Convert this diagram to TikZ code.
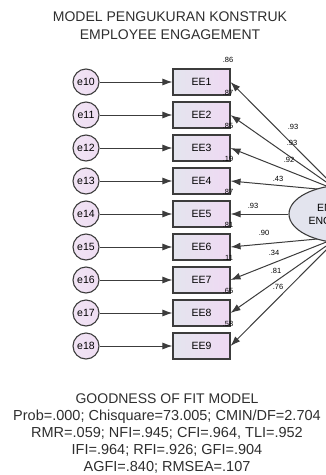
\documentclass[tikz,border=0pt]{standalone}
\usepackage{fontspec}
\setmainfont{Liberation Sans}
\usetikzlibrary{arrows.meta,shapes.geometric}
\definecolor{boxleft}{HTML}{E4E5EE}
\definecolor{boxright}{HTML}{EFD9F3}
\definecolor{errfill}{HTML}{EEDDF2}
\definecolor{latfill}{HTML}{E3E4EE}
\definecolor{edgegray}{HTML}{3C3C3C}
\definecolor{txtgray}{HTML}{2E2E2E}

\begin{document}
\begin{tikzpicture}[x=1pt, y=1pt,
  err/.style={shape=circle, draw=edgegray, line width=1.1pt, left color=errfill!80!white, right color=errfill, minimum size=26pt, inner sep=0pt, font=\fontsize{10.5}{12}\selectfont},
  item/.style={shape=rectangle, draw=edgegray, line width=1.1pt, left color=boxleft, right color=boxright, minimum width=57pt, minimum height=26pt, inner sep=0pt, font=\fontsize{10.5}{12}\selectfont},
  latent/.style={shape=ellipse, draw=edgegray, line width=1.1pt, fill=latfill, minimum width=114pt, minimum height=58pt, inner sep=0pt, align=center, font=\fontsize{10.5}{13}\selectfont},
  arr/.style={-{Latex[length=10pt,width=7pt]}, line width=1pt, draw=edgegray},
  sq/.style={font=\fontsize{7.5}{8}\selectfont, inner sep=0pt},
  coef/.style={font=\fontsize{7.5}{8}\selectfont, inner sep=0pt},
  head/.style={align=center, text=txtgray, font=\fontsize{14}{18}\selectfont},
  fit/.style={align=center, text=txtgray, font=\fontsize{14.5}{17}\selectfont}]
\clip (0,0) rectangle (326,-475);

\node[head] (title) at (170,-26) {MODEL PENGUKURAN KONSTRUK\\EMPLOYEE ENGAGEMENT};

\node[err] (e10) at (86,-82) {e10};
\node[err] (e11) at (86,-115) {e11};
\node[err] (e12) at (86,-148) {e12};
\node[err] (e13) at (86,-181) {e13};
\node[err] (e14) at (86,-214) {e14};
\node[err] (e15) at (86,-247) {e15};
\node[err] (e16) at (86,-280) {e16};
\node[err] (e17) at (86,-313) {e17};
\node[err] (e18) at (86,-346) {e18};

\node[item] (EE1) at (201.5,-82) {EE1};
\node[item] (EE2) at (201.5,-115) {EE2};
\node[item] (EE3) at (201.5,-148) {EE3};
\node[item] (EE4) at (201.5,-181) {EE4};
\node[item] (EE5) at (201.5,-214) {EE5};
\node[item] (EE6) at (201.5,-247) {EE6};
\node[item] (EE7) at (201.5,-280) {EE7};
\node[item] (EE8) at (201.5,-313) {EE8};
\node[item] (EE9) at (201.5,-346) {EE9};

\draw[arr] (e10) -- (EE1);
\draw[arr] (e11) -- (EE2);
\draw[arr] (e12) -- (EE3);
\draw[arr] (e13) -- (EE4);
\draw[arr] (e14) -- (EE5);
\draw[arr] (e15) -- (EE6);
\draw[arr] (e16) -- (EE7);
\draw[arr] (e17) -- (EE8);
\draw[arr] (e18) -- (EE9);

% loadings leave the ellipse from two points, ellipse drawn over them
\coordinate (hubT) at (339,-191);
\coordinate (hubB) at (339,-237);
\draw[arr] (hubT) -- (EE1.east);
\draw[arr] (hubT) -- (EE2.east);
\draw[arr] (hubT) -- (EE3.east);
\draw[arr] (hubT) -- (EE4.east);
\draw[arr] (hubB) -- (EE6.east);
\draw[arr] (hubB) -- (EE7.east);
\draw[arr] (hubB) -- (EE8.east);
\draw[arr] (hubB) -- (EE9.east);

\node[latent] (EE) at (346,-214) {EMPLOYEE\\ENGAGEMENT};
\draw[arr] (EE.west) -- (EE5.east);

% squared multiple correlations
\node[sq] (r1) at (228,-60) {.86};
\node[sq] (r2) at (228,-93) {.87};
\node[sq] (r3) at (228,-126) {.85};
\node[sq] (r4) at (228,-159) {.19};
\node[sq] (r5) at (228,-192) {.87};
\node[sq] (r6) at (228,-225) {.81};
\node[sq] (r7) at (228,-258) {.11};
\node[sq] (r8) at (228,-291) {.65};
\node[sq] (r9) at (228,-324) {.58};

% standardized loadings
\node[coef] (l1) at (293,-127) {.93};
\node[coef] (l2) at (292,-143) {.93};
\node[coef] (l3) at (289,-160) {.92};
\node[coef] (l4) at (278,-179) {.43};
\node[coef] (l5) at (253,-206) {.93};
\node[coef] (l6) at (264,-233) {.90};
\node[coef] (l7) at (274,-253) {.34};
\node[coef] (l8) at (276,-271) {.81};
\node[coef] (l9) at (278,-287) {.76};

\node[head] (gof) at (167,-399) {GOODNESS OF FIT MODEL};
\node[fit] (stats) at (167,-442) {Prob=.000; Chisquare=73.005; CMIN/DF=2.704\\RMR=.059; NFI=.945; CFI=.964, TLI=.952\\IFI=.964; RFI=.926; GFI=.904\\AGFI=.840; RMSEA=.107};
\end{tikzpicture}
\end{document}
